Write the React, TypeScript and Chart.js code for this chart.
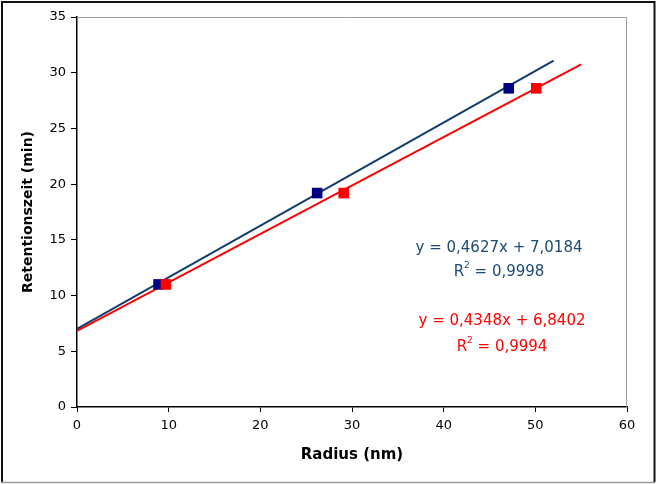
import React, { useEffect, useRef } from "react";
import { Chart, registerables } from "chart.js";

Chart.register(...registerables);

// Measured points (Radius nm, Retentionszeit min)
const blueRadius = [8.9, 26.2, 47.1];
const blueTime = [11.0, 19.2, 28.6];
const redRadius = [9.7, 29.1, 50.1];
const redTime = [11.0, 19.2, 28.6];

// Trendline endpoints
const blueTrendX = [0, 52];
const blueTrendY = [7.02, 31.08];
const redTrendX = [0, 55];
const redTrendY = [6.84, 30.75];

const blueEquation = ["y = 0,4627x + 7,0184", "0,9998"];
const redEquation = ["y = 0,4348x + 6,8402", "0,9994"];

const xTitle = "Radius (nm)";
const yTitle = "Retentionszeit (min)";

const FONT = "'DejaVu Sans', 'Liberation Sans', Arial, sans-serif";
const LINE_BLUE = "#0f3d6b";
const MARK_BLUE = "#000080";
const TEXT_BLUE = "#1b4a79";
const RED = "#ff0000";

const toPts = (xs: number[], ys: number[]) => xs.map((x, i) => ({ x, y: ys[i] }));

const decorPlugin = {
  id: "decor",
  beforeDraw(chart: any) {
    const ctx = chart.ctx;
    ctx.save();
    ctx.fillStyle = "#ffffff";
    ctx.fillRect(0, 0, chart.width, chart.height);
    ctx.restore();
  },
  afterDraw(chart: any) {
    const ctx = chart.ctx;
    const a = chart.chartArea;
    ctx.save();
    // plot area top/right gray border
    ctx.strokeStyle = "#a0a0a0";
    ctx.lineWidth = 1;
    ctx.beginPath();
    ctx.moveTo(a.left, a.top + 0.5);
    ctx.lineTo(a.right - 0.5, a.top + 0.5);
    ctx.lineTo(a.right - 0.5, a.bottom);
    ctx.stroke();
    // outer frame
    ctx.strokeStyle = "#111111";
    ctx.lineWidth = 2;
    ctx.beginPath();
    ctx.moveTo(2, 482);
    ctx.lineTo(2, 2);
    ctx.lineTo(654.5, 2);
    ctx.lineTo(654.5, 482);
    ctx.stroke();
    ctx.strokeStyle = "#999999";
    ctx.lineWidth = 1.5;
    ctx.beginPath();
    ctx.moveTo(1, 482.5);
    ctx.lineTo(655, 482.5);
    ctx.stroke();

    // axis titles
    ctx.fillStyle = "#000000";
    ctx.font = `bold 15px ${FONT}`;
    ctx.textAlign = "center";
    ctx.textBaseline = "middle";
    ctx.fillText(xTitle, 352, 455);
    ctx.font = `bold 14px ${FONT}`;
    ctx.save();
    ctx.translate(28, 212);
    ctx.rotate(-Math.PI / 2);
    ctx.fillText(yTitle, 0, 0);
    ctx.restore();

    // equations
    const drawEq = (eq: string[], cx: number, y1: number, y2: number, color: string) => {
      ctx.fillStyle = color;
      ctx.font = `15px ${FONT}`;
      ctx.textAlign = "center";
      ctx.textBaseline = "middle";
      ctx.fillText(eq[0], cx, y1);
      const rest = " = " + eq[1];
      const wR = ctx.measureText("R").width;
      ctx.font = `9px ${FONT}`;
      const w2 = ctx.measureText("2").width;
      ctx.font = `15px ${FONT}`;
      const wRest = ctx.measureText(rest).width;
      const total = wR + w2 + wRest;
      let x = cx - total / 2;
      ctx.textAlign = "left";
      ctx.fillText("R", x, y2);
      x += wR;
      ctx.font = `9px ${FONT}`;
      ctx.fillText("2", x, y2 - 6);
      x += w2;
      ctx.font = `15px ${FONT}`;
      ctx.fillText(rest, x, y2);
    };
    drawEq(blueEquation, 499, 248, 272, TEXT_BLUE);
    drawEq(redEquation, 502, 321, 347, RED);
    ctx.restore();
  },
};

export default function App() {
  const ref = useRef<HTMLCanvasElement | null>(null);

  useEffect(() => {
    if (!ref.current) return;
    const chart = new Chart(ref.current, {
      type: "scatter",
      data: {
        datasets: [
          {
            label: "red points",
            data: toPts(redRadius, redTime),
            pointStyle: "rect",
            pointRadius: 7.5,
            pointBackgroundColor: RED,
            pointBorderColor: RED,
            pointBorderWidth: 0,
            showLine: false,
            order: 0,
          },
          {
            label: "blue points",
            data: toPts(blueRadius, blueTime),
            pointStyle: "rect",
            pointRadius: 7.5,
            pointBackgroundColor: MARK_BLUE,
            pointBorderColor: MARK_BLUE,
            pointBorderWidth: 0,
            showLine: false,
            order: 1,
          },
          {
            label: "blue trend",
            data: toPts(blueTrendX, blueTrendY),
            showLine: true,
            borderColor: LINE_BLUE,
            borderWidth: 2,
            pointRadius: 0,
            order: 2,
          },
          {
            label: "red trend",
            data: toPts(redTrendX, redTrendY),
            showLine: true,
            borderColor: RED,
            borderWidth: 2,
            pointRadius: 0,
            order: 3,
          },
        ] as any,
      },
      options: {
        animation: false,
        responsive: false,
        maintainAspectRatio: false,
        layout: { padding: { left: 0, top: 17, right: 30, bottom: 0 } },
        plugins: {
          legend: { display: false },
          tooltip: { enabled: false },
          title: { display: false },
        },
        scales: {
          x: {
            type: "linear",
            min: 0,
            max: 60,
            afterFit: (s: any) => {
              s.height = 77;
            },
            ticks: {
              stepSize: 10,
              color: "#000",
              font: { family: FONT, size: 13 },
              padding: 6,
              maxRotation: 0,
            },
            grid: {
              drawOnChartArea: false,
              drawTicks: true,
              tickLength: 5,
              color: "#000",
            },
            border: { color: "#000", width: 1.5 },
          },
          y: {
            type: "linear",
            min: 0,
            max: 35,
            afterFit: (s: any) => {
              s.width = 77;
            },
            ticks: {
              stepSize: 5,
              color: "#000",
              font: { family: FONT, size: 13 },
              padding: 5,
            },
            grid: {
              drawOnChartArea: false,
              drawTicks: true,
              tickLength: 6,
              color: "#000",
            },
            border: { color: "#000", width: 1.5 },
          },
        },
      } as any,
      plugins: [decorPlugin],
    });
    return () => chart.destroy();
  }, []);

  return (
    <div style={{ position: "absolute", left: 0, top: 0, width: 657, height: 484 }}>
      <canvas ref={ref} width={657} height={484} style={{ width: 657, height: 484, display: "block" }} />
    </div>
  );
}
